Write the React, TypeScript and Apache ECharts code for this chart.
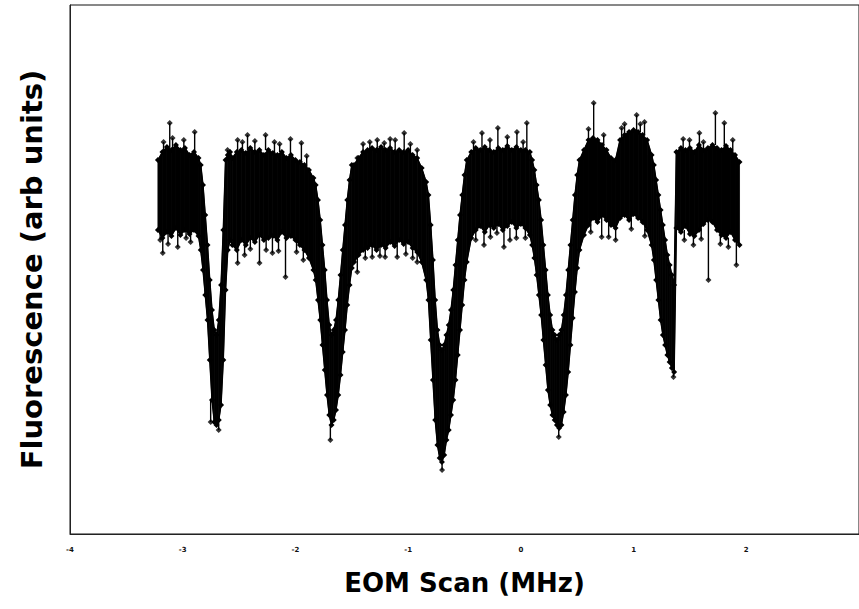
import React, { useEffect, useRef } from "react";
import * as echarts from "echarts";

// EOM scan positions (MHz) at which the noise envelope was read
const scanX = [
  // segment A
  -3.22, -3.18, -3.14, -3.1, -3.06, -3.02, -2.98, -2.94, -2.9, -2.86,
  // dip 1
  -2.84, -2.82, -2.8, -2.78, -2.76, -2.74, -2.72, -2.7, -2.68, -2.66, -2.64, -2.62, -2.6, -2.58,
  // segment B
  -2.56, -2.52, -2.48, -2.44, -2.4, -2.36, -2.32, -2.28, -2.24, -2.2, -2.16, -2.12, -2.08, -2.04, -2.0, -1.96, -1.92, -1.88, -1.84,
  // dip 2
  -1.82, -1.8, -1.78, -1.76, -1.74, -1.72, -1.7, -1.68, -1.66, -1.64, -1.62, -1.6, -1.58, -1.56, -1.54, -1.52, -1.5,
  // segment C
  -1.48, -1.44, -1.4, -1.36, -1.32, -1.28, -1.24, -1.2, -1.16, -1.12, -1.08, -1.04, -1.0, -0.96, -0.92, -0.88, -0.84,
  // dip 3
  -0.82, -0.8, -0.78, -0.76, -0.74, -0.72, -0.7, -0.68, -0.66, -0.64, -0.62, -0.6, -0.58, -0.56, -0.54, -0.52, -0.5,
  // segment D
  -0.48, -0.44, -0.4, -0.36, -0.32, -0.28, -0.24, -0.2, -0.16, -0.12, -0.08, -0.04, 0.0, 0.04, 0.08,
  // dip 4
  0.1, 0.12, 0.14, 0.16, 0.18, 0.2, 0.22, 0.24, 0.26, 0.28, 0.3, 0.32, 0.34, 0.36, 0.38, 0.4, 0.42, 0.44, 0.46, 0.48, 0.5, 0.52,
  // segment E
  0.56, 0.6, 0.64, 0.68, 0.72, 0.76, 0.8, 0.84, 0.88, 0.92, 0.96, 1.0, 1.04, 1.08, 1.12, 1.16,
  // dip 5
  1.18, 1.2, 1.22, 1.24, 1.26, 1.28, 1.3, 1.32, 1.34, 1.36,
  // segment F
  1.38, 1.42, 1.46, 1.5, 1.54, 1.58, 1.62, 1.66, 1.7, 1.74, 1.78, 1.82, 1.86, 1.9, 1.94,
];

// upper edge of the fluorescence noise band (arb units)
const upperFluor = [
  374, 382, 387, 384, 389, 384, 386, 379, 382, 376,
  369, 349, 319, 289, 254, 224, 204, 199, 214, 249, 304, 374, 379, 382,
  376, 382, 384, 381, 386, 382, 384, 379, 384, 381, 379, 382, 376, 379, 374, 372, 369, 364, 356,
  349, 334, 314, 289, 264, 234, 209, 199, 204, 214, 234, 259, 284, 309, 334, 354, 369,
  369, 376, 382, 384, 386, 384, 387, 384, 386, 382, 384, 382, 384, 379, 376, 366, 352,
  339, 309, 274, 234, 204, 189, 184, 189, 199, 209, 224, 244, 269, 294, 319, 339, 359,
  374, 382, 386, 384, 387, 384, 382, 386, 384, 388, 384, 387, 384, 384, 382,
  374, 364, 349, 334, 314, 289, 264, 239, 219, 204, 199, 194, 199, 204, 219, 239, 264, 289, 314, 339, 359, 374,
  384, 394, 396, 394, 389, 384, 376, 374, 394, 399, 402, 404, 402, 399, 394, 379,
  369, 354, 339, 324, 309, 294, 279, 269, 259, 249,
  382, 386, 384, 386, 382, 389, 384, 386, 389, 386, 384, 388, 384, 379, 372,
];

// lower edge of the fluorescence noise band (arb units)
const lowerFluor = [
  304, 296, 302, 298, 306, 299, 304, 300, 304, 298,
  284, 264, 239, 214, 174, 134, 112, 109, 114, 129, 174, 244, 284, 294,
  289, 284, 294, 289, 296, 292, 299, 294, 296, 298, 294, 302, 296, 298, 294, 289, 284, 276, 264,
  254, 234, 214, 189, 164, 139, 119, 109, 114, 124, 139, 159, 182, 204, 229, 249, 266,
  272, 279, 284, 286, 289, 284, 289, 286, 292, 288, 294, 290, 292, 286, 282, 272, 254,
  234, 194, 154, 114, 89, 76, 72, 79, 94, 104, 119, 134, 154, 179, 204, 229, 254,
  272, 296, 304, 308, 302, 309, 306, 310, 304, 308, 312, 306, 310, 306, 299,
  289, 276, 259, 239, 219, 194, 169, 144, 129, 119, 114, 109, 106, 109, 122, 139, 162, 189, 216, 242, 266, 284,
  299, 309, 316, 312, 319, 314, 309, 306, 316, 319, 314, 320, 316, 312, 304, 289,
  274, 254, 234, 214, 199, 189, 179, 172, 166, 162,
  306, 302, 308, 300, 298, 304, 310, 314, 312, 304, 299, 296, 302, 294, 289,
];

// isolated noise excursions: [MHz, band edge, excursion tip]
const spikes = [
  [-3.115, 386, 411], [-2.894, 382, 402], [-3.17, 382, 392], [-3.09, 386, 396], [-2.99, 386, 394],
  [-3.177, 296, 281], [-3.044, 304, 287], [-2.93, 300, 292], [-3.2, 304, 294], [-3.13, 302, 290], [-2.97, 304, 296],
  [-2.752, 134, 112], [-2.681, 114, 104],
  [-2.602, 374, 384], [-2.513, 382, 394], [-2.425, 384, 399], [-2.265, 384, 399], [-2.186, 381, 392], [-2.044, 379, 395], [-1.947, 372, 391],
  [-2.47, 384, 392], [-2.36, 382, 393], [-2.14, 382, 390], [-1.9, 366, 378],
  [-2.513, 286, 271], [-2.451, 291, 279], [-2.319, 298, 271], [-2.204, 298, 281], [-2.088, 296, 257], [-1.99, 294, 282],
  [-2.4, 296, 285], [-2.26, 296, 284], [-2.15, 294, 283], [-1.93, 286, 274],
  [-1.69, 109, 94],
  [-1.451, 370, 376], [-1.274, 384, 394], [-1.212, 384, 391], [-1.115, 384, 394], [-1.035, 384, 401], [-0.92, 376, 384],
  [-1.4, 382, 390], [-1.34, 384, 392], [-1.16, 386, 395], [-0.98, 382, 390],
  [-1.451, 279, 262], [-1.319, 289, 277], [-1.204, 286, 277], [-1.097, 292, 277], [-0.92, 282, 272],
  [-1.38, 286, 276], [-1.25, 289, 278], [-1.02, 290, 280], [-0.96, 286, 276],
  [-0.699, 72, 64],
  [-0.345, 384, 401], [-0.274, 384, 394], [-0.204, 386, 406], [-0.035, 387, 402], [0.053, 384, 411],
  [-0.42, 384, 392], [-0.12, 388, 397], [0.02, 384, 392],
  [-0.327, 302, 289], [-0.212, 310, 301], [-0.15, 304, 287], [-0.097, 306, 294],
  [-0.4, 304, 294], [-0.27, 309, 297], [-0.04, 306, 296], [0.04, 306, 296],
  [0.336, 106, 97],
  [0.646, 396, 431], [0.735, 389, 399], [0.894, 394, 406], [1.027, 402, 419], [1.097, 399, 412],
  [0.6, 394, 405], [0.92, 399, 410], [1.06, 402, 410],
  [0.717, 319, 297], [0.779, 314, 297], [0.841, 306, 294],
  [0.62, 312, 302], [0.98, 316, 305], [1.1, 310, 298],
  [1.354, 162, 157],
  [1.496, 386, 394], [1.584, 384, 401], [1.726, 389, 421], [1.805, 388, 411],
  [1.44, 386, 395], [1.62, 384, 392], [1.88, 382, 394],
  [1.531, 298, 289], [1.664, 312, 254], [1.841, 296, 287], [1.912, 294, 269],
  [1.45, 304, 294], [1.6, 306, 295], [1.77, 300, 290],
];

const xMin = -4;
const xMax = 3;
const xStep = 1;
const yMin = 0;
const yMax = 529;

export default function App() {
  const ref = useRef<HTMLDivElement>(null);

  useEffect(() => {
    document.body.style.margin = "0";
    const chart = echarts.init(ref.current as HTMLDivElement, null, { renderer: "svg" });

    const bandData = scanX.map((x, i) => [x, upperFluor[i], lowerFluor[i]]);
    const upperData = scanX.map((x, i) => [x, upperFluor[i]]);
    const lowerData = scanX.map((x, i) => [x, lowerFluor[i]]);
    const spikeData: any[] = [];
    spikes.forEach(([x, b, t]) => {
      spikeData.push([x, b], [x, t], [x, "-"]);
    });
    const tipData = spikes.map(([x, , t]) => [x, t]);

    const renderBand = (params: any, api: any) => {
      const i = params.dataIndex;
      if (i >= scanX.length - 1) return null;
      const a1 = api.coord([scanX[i], upperFluor[i]]);
      const b1 = api.coord([scanX[i + 1], upperFluor[i + 1]]);
      const b2 = api.coord([scanX[i + 1], lowerFluor[i + 1]]);
      const a2 = api.coord([scanX[i], lowerFluor[i]]);
      return {
        type: "polygon",
        shape: { points: [a1, b1, b2, a2] },
        style: { fill: "#000", stroke: "#000", lineWidth: 0.8 },
      };
    };

    chart.setOption({
      animation: false,
      backgroundColor: "#ffffff",
      grid: {
        left: 70,
        right: -4,
        top: 5,
        bottom: 75,
        show: true,
        borderColor: "#111",
        borderWidth: 1,
        backgroundColor: "transparent",
      },
      xAxis: {
        type: "value",
        min: xMin,
        max: xMax,
        interval: xStep,
        axisLine: { show: true, onZero: false, lineStyle: { color: "#222", width: 1 } },
        axisTick: { show: false },
        splitLine: { show: false },
        axisLabel: {
          fontSize: 7,
          fontWeight: "bold",
          color: "#111",
          margin: 12,
          fontFamily: "DejaVu Sans",
          showMaxLabel: false,
        },
        name: "EOM Scan (MHz)",
        nameLocation: "middle",
        nameGap: 36,
        nameTextStyle: {
          fontSize: 26,
          fontWeight: "bold",
          fontFamily: "DejaVu Sans",
          color: "#000",
        },
      },
      yAxis: {
        type: "value",
        min: yMin,
        max: yMax,
        axisLine: { show: true, onZero: false, lineStyle: { color: "#222", width: 1 } },
        axisTick: { show: false },
        axisLabel: { show: false },
        splitLine: { show: false },
        name: "Fluorescence (arb units)",
        nameLocation: "middle",
        nameGap: 24,
        nameTextStyle: {
          fontSize: 29,
          fontWeight: "bold",
          fontFamily: "DejaVu Sans",
          color: "#000",
        },
      },
      series: [
        {
          name: "band",
          type: "custom",
          data: bandData,
          renderItem: renderBand,
          encode: { x: 0, y: [1, 2] },
          z: 2,
        },
        {
          name: "upper",
          type: "line",
          data: upperData,
          symbol: "diamond",
          symbolSize: 6,
          showAllSymbol: true,
          itemStyle: { color: "#000" },
          lineStyle: { color: "#000", width: 1.4 },
          z: 3,
        },
        {
          name: "lower",
          type: "line",
          data: lowerData,
          symbol: "diamond",
          symbolSize: 6,
          showAllSymbol: true,
          itemStyle: { color: "#000" },
          lineStyle: { color: "#000", width: 1.4 },
          z: 3,
        },
        {
          name: "spikes",
          type: "line",
          data: spikeData,
          showSymbol: false,
          connectNulls: false,
          lineStyle: { color: "#000", width: 1.4 },
          z: 4,
        },
        {
          name: "tips",
          type: "scatter",
          data: tipData,
          symbol: "diamond",
          symbolSize: 6,
          itemStyle: { color: "#000" },
          z: 5,
        },
      ],
    });

    return () => chart.dispose();
  }, []);

  return <div ref={ref} style={{ width: 859, height: 609 }} />;
}
